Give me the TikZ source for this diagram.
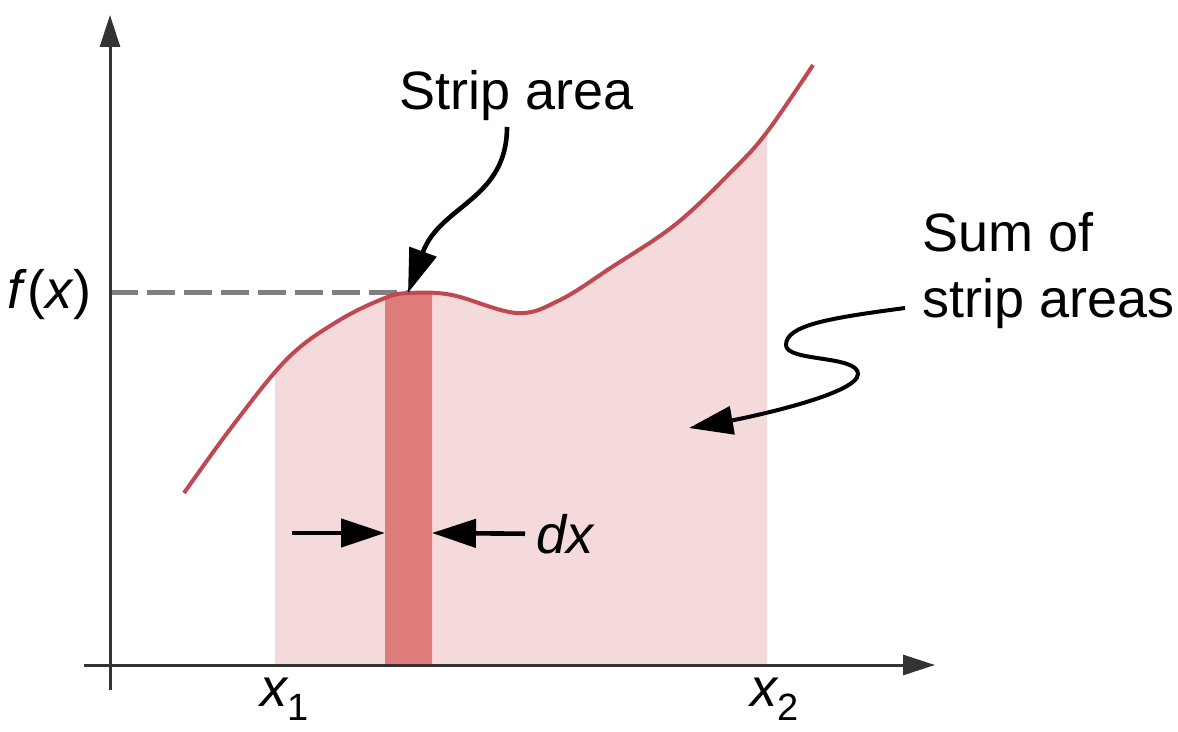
\documentclass[tikz,border=0pt]{standalone}
\usepackage{fontspec}
\setmainfont{Liberation Sans}
\definecolor{areafill}{HTML}{F5DADB}
\definecolor{stripfill}{HTML}{DE7B7B}
\definecolor{curvered}{HTML}{C04850}
\definecolor{axisgray}{HTML}{333333}
\definecolor{dashgray}{HTML}{808080}
\usepackage{tikz}
\usetikzlibrary{arrows.meta}

\begin{document}
\begin{tikzpicture}[x=0.5pt, y=-0.5pt,
    every node/.style={inner sep=0pt, font=\fontsize{27}{33}\selectfont},
    fx/.style={insert path={plot[smooth, tension=0.6] coordinates {
      (184,493) (234,424) (288,358) (338,321) (385,298) (410,293) (452,295)
      (517,313) (560,300) (612,267) (676,224) (733,170) (767,132) (813,65)}}},
    axis/.style={axisgray, line width=1.5pt, -{Triangle[length=16pt, width=10pt]}},
    callout/.style={black, line width=2.3pt, -{Triangle[length=22pt, width=14pt]}}]
  \useasboundingbox (0,0) rectangle (1178,732);

  % area under the curve, then the one strip
  \foreach \xa/\xb/\col in {275/767/areafill, 385/432/stripfill} {
    \begin{scope}
      \clip (\xa,0) rectangle (\xb,665);
      \fill[\col, fx] -- (813,665) -- (184,665) -- cycle;
    \end{scope}
  }

  \coordinate (peak) at (408,293);
  \coordinate (fxAxis) at (110,293);
  \draw[dashgray, line width=2.5pt, dash pattern=on 14pt off 4.5pt] (fxAxis) -- (peak);
  \draw[curvered, line width=2pt, fx];

  % axes
  \coordinate (yBot) at (110,690);
  \coordinate (yTop) at (110,15);
  \coordinate (xLeft) at (84,665);
  \coordinate (xRight) at (935,665);
  \draw[axis] (yBot) -- (yTop);
  \draw[axis] (xLeft) -- (xRight);

  % labels
  \node[anchor=base east] (fLbl) at (92,309) {\textit{f}(\textit{x})};
  \node[anchor=base] (stripLbl) at (517,110) {Strip area};
  \node[anchor=base west, align=left] (sumLbl) at (922,318) {Sum of\\strip areas};
  \node[anchor=base west] (dxLbl) at (536,553) {\itshape dx};
  \node[anchor=base west] (xOneLbl) at (260,706)
    {\itshape x\upshape\raisebox{-7pt}{\fontsize{19}{19}\selectfont 1}};
  \node[anchor=base west] (xTwoLbl) at (750,706)
    {\itshape x\upshape\raisebox{-7pt}{\fontsize{19}{19}\selectfont 2}};

  % callouts
  \coordinate (stripTail) at (507,127);
  \draw[callout] (stripTail) .. controls (507,200) and (440,205) .. (peak);

  \coordinate (sumTail) at (905,308);
  \coordinate (sumTip) at (689,428);
  \draw[callout, line width=2pt] (sumTail) .. controls (830,318) and (786,325) .. (786,345)
    .. controls (786,362) and (858,355) .. (858,374)
    .. controls (858,395) and (740,419) .. (sumTip);

  % strip width
  \coordinate (stripL) at (385,533);
  \coordinate (stripR) at (432,533);
  \coordinate (dxTailL) at (292,533);
  \draw[callout] (dxTailL) -- (stripL);
  \draw[callout] ([xshift=-5.5pt]dxLbl.west) -- (stripR);
\end{tikzpicture}
\end{document}
